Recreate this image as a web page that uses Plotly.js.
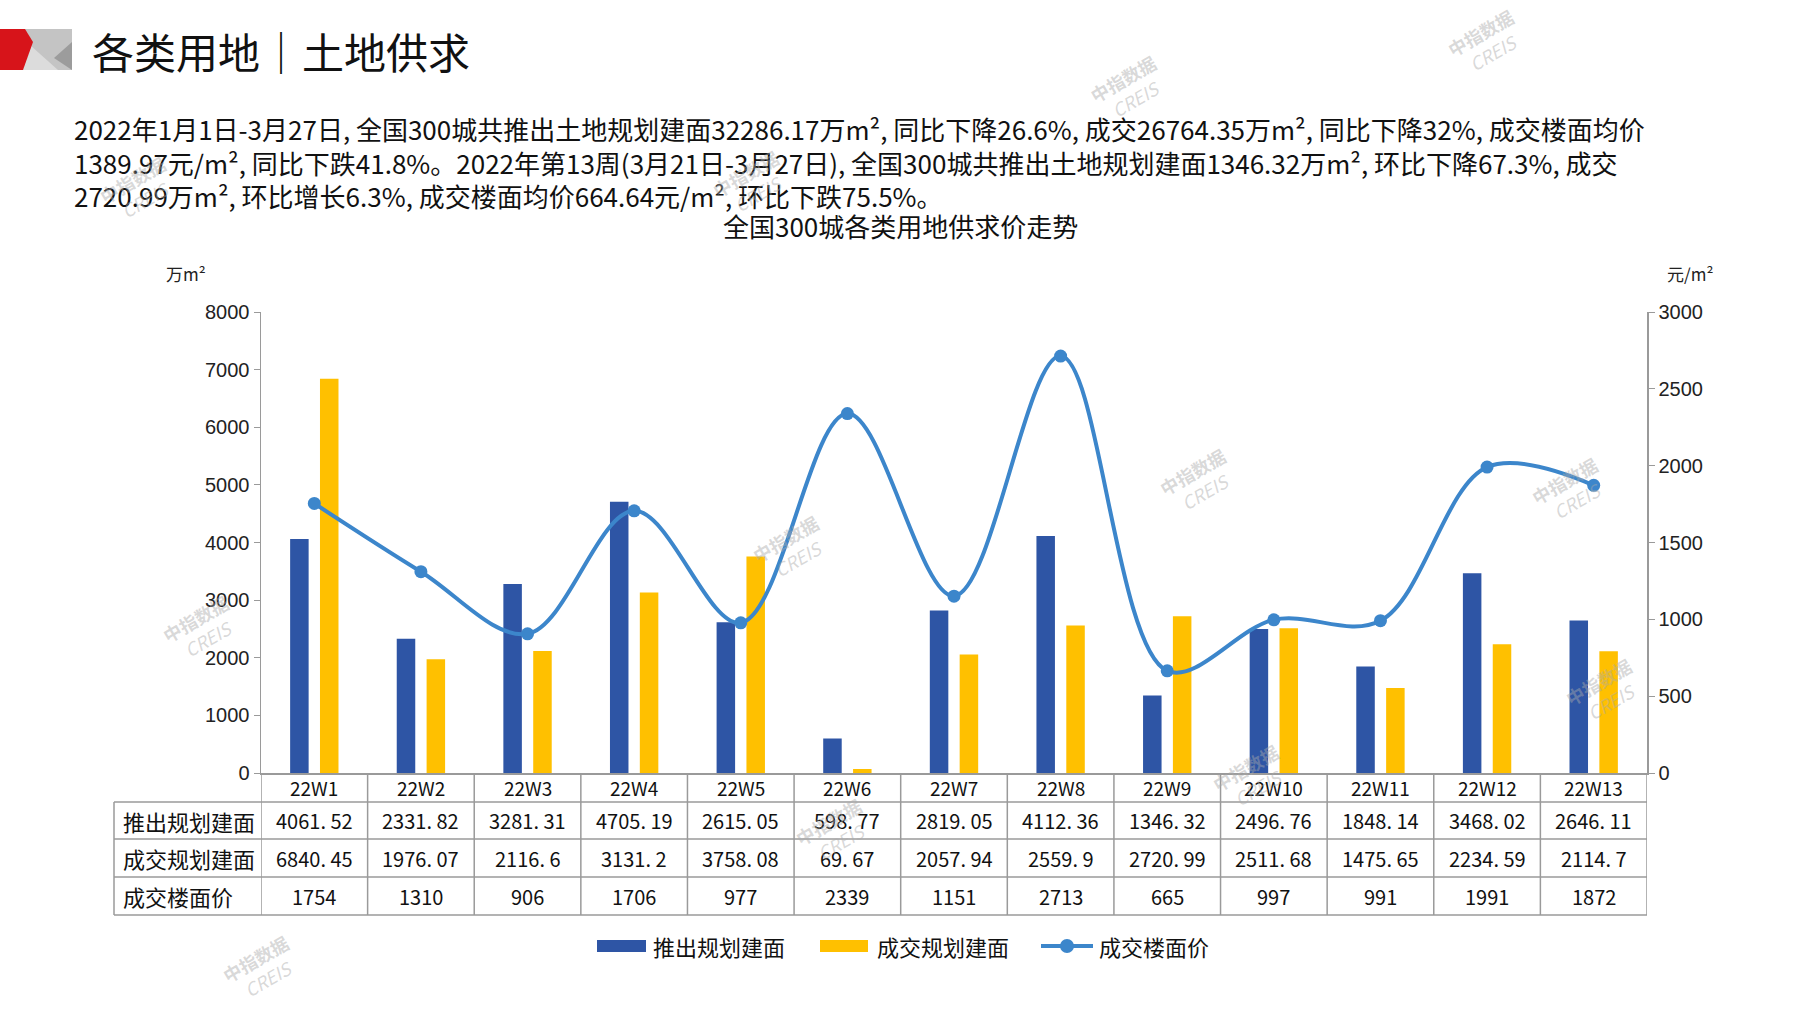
<!DOCTYPE html>
<html>
<head>
<meta charset="utf-8">
<script src="https://cdn.plot.ly/plotly-3.0.1.min.js"></script>
<style>
  body { margin: 0; background: #fff; }
  #chart { width: 1797px; height: 1010px; }
</style>
</head>
<body>
<div id="chart"></div>
<script>
// chart data
const weeks = ["22W1", "22W2", "22W3", "22W4", "22W5", "22W6", "22W7", "22W8", "22W9", "22W10", "22W11", "22W12", "22W13"];
const supplyArea = [4061.52, 2331.82, 3281.31, 4705.19, 2615.05, 598.77, 2819.05, 4112.36, 1346.32, 2496.76, 1848.14, 3468.02, 2646.11];
const dealArea = [6840.45, 1976.07, 2116.6, 3131.2, 3758.08, 69.67, 2057.94, 2559.9, 2720.99, 2511.68, 1475.65, 2234.59, 2114.7];
const dealPrice = [1754, 1310, 906, 1706, 977, 2339, 1151, 2713, 665, 997, 991, 1991, 1872];
const seriesNames = ["推出规划建面", "成交规划建面", "成交楼面价"];

const headerTitle = "各类用地｜土地供求";
const summaryLines = [
  "2022年1月1日-3月27日, 全国300城共推出土地规划建面32286.17万m², 同比下降26.6%, 成交26764.35万m², 同比下降32%, 成交楼面均价",
  "1389.97元/m², 同比下跌41.8%。2022年第13周(3月21日-3月27日), 全国300城共推出土地规划建面1346.32万m², 环比下降67.3%, 成交",
  "2720.99万m², 环比增长6.3%, 成交楼面均价664.64元/m², 环比下跌75.5%。"
];
const chartTitle = "全国300城各类用地供求价走势";

const BLUE = "#2E55A5", GOLD = "#FFC000", LINE = "#3C86CB", GRID = "#9a9a9a";
const CJK = "Noto Sans CJK SC";

// plot area in pixels, used to place the page furniture around it
const L = 261, R = 1647, T = 312, B = 773;
const px = x => (x - L) / (R - L);
const py = y => (B - y) / (B - T);

let traces = [
  {
    x: weeks, y: supplyArea, type: "bar", name: seriesNames[0],
    marker: { color: BLUE }, showlegend: false
  },
  {
    x: weeks, y: dealArea, type: "bar", name: seriesNames[1],
    marker: { color: GOLD }, showlegend: false
  },
  {
    x: weeks, y: dealPrice, type: "scatter", mode: "lines+markers", yaxis: "y2",
    name: seriesNames[2],
    line: { color: LINE, width: 4, shape: "spline", smoothing: 1 },
    marker: { color: LINE, size: 13 }, showlegend: false
  }
];

let shapes = [];
let annotations = [];

// header logo
const poly = (pts, color) => shapes.push({
  type: "path", xref: "paper", yref: "paper", line: { width: 0 }, fillcolor: color,
  path: "M " + pts.map(p => px(p[0]) + "," + py(p[1])).join(" L ") + " Z"
});
poly([[25, 29], [72, 29], [72, 70], [25, 70]], "#C4C4C4");
poly([[30, 45], [58, 70], [22, 70]], "#DCDCDC");
poly([[72, 42], [54, 58], [72, 70]], "#9C9C9C");
poly([[0, 29], [25, 29], [33, 42], [23, 70], [0, 70]], "#D7141A");

annotations.push({
  xref: "paper", yref: "paper", x: px(90), y: py(50), xanchor: "left", yanchor: "middle",
  text: headerTitle, showarrow: false, font: { family: CJK, size: 42, color: "#111" }
});

// summary paragraph
const lineY = [128, 162, 195];
summaryLines.forEach((t, i) => annotations.push({
  xref: "paper", yref: "paper", x: px(72), y: py(lineY[i]), xanchor: "left", yanchor: "middle",
  text: t, showarrow: false, font: { family: CJK, size: 26, color: "#111" }
}));

annotations.push({
  xref: "paper", yref: "paper", x: px(900), y: py(225), xanchor: "center", yanchor: "middle",
  text: chartTitle, showarrow: false, font: { family: CJK, size: 26, color: "#111" }
});

// axis units
annotations.push({
  xref: "paper", yref: "paper", x: px(186), y: py(273), xanchor: "center", yanchor: "middle",
  text: "万m²", showarrow: false, font: { family: CJK, size: 17, color: "#222" }
});
annotations.push({
  xref: "paper", yref: "paper", x: px(1690), y: py(273), xanchor: "center", yanchor: "middle",
  text: "元/m²", showarrow: false, font: { family: CJK, size: 17, color: "#222" }
});

// data table under the plot
const rowEdges = [773, 802, 839, 877, 915];
const tableLeft = 114;
const hline = (x0, x1, y) => shapes.push({
  type: "line", xref: "paper", yref: "paper", x0: px(x0), x1: px(x1), y0: py(y), y1: py(y),
  line: { color: GRID, width: 1.5 }
});
rowEdges.slice(1).forEach(y => hline(tableLeft, R, y));
weeks.forEach((w, i) => shapes.push({
  type: "line", xref: "x", yref: "paper", x0: i - 0.5, x1: i - 0.5, y0: py(773), y1: py(915),
  line: { color: GRID, width: 1.5 }
}));
shapes.push({
  type: "line", xref: "x", yref: "paper", x0: weeks.length - 0.5, x1: weeks.length - 0.5,
  y0: py(773), y1: py(915), line: { color: GRID, width: 1.5 }
});
shapes.push({
  type: "line", xref: "paper", yref: "paper", x0: px(tableLeft), x1: px(tableLeft),
  y0: py(802), y1: py(915), line: { color: GRID, width: 1.5 }
});

const rowMid = i => py((rowEdges[i] + rowEdges[i + 1]) / 2);
const fmt = v => String(v).replace(".", ". ");
const tableRows = [weeks, supplyArea.map(fmt), dealArea.map(fmt), dealPrice.map(String)];
tableRows.forEach((row, r) => row.forEach((v, i) => annotations.push({
  xref: "x", yref: "paper", x: i, y: rowMid(r), xanchor: "center", yanchor: "middle",
  text: v, showarrow: false, font: { family: CJK, size: r === 0 ? 19 : 20, color: "#111" }
})));
seriesNames.forEach((n, r) => annotations.push({
  xref: "paper", yref: "paper", x: px(121), y: rowMid(r + 1), xanchor: "left", yanchor: "middle",
  text: n, showarrow: false, font: { family: CJK, size: 22, color: "#111" }
}));

// legend
const legY = 946;
shapes.push({ type: "rect", xref: "paper", yref: "paper", x0: px(597), x1: px(646), y0: py(legY - 6), y1: py(legY + 6), fillcolor: BLUE, line: { width: 0 } });
shapes.push({ type: "rect", xref: "paper", yref: "paper", x0: px(820), x1: px(868), y0: py(legY - 6), y1: py(legY + 6), fillcolor: GOLD, line: { width: 0 } });
shapes.push({ type: "line", xref: "paper", yref: "paper", x0: px(1041), x1: px(1093), y0: py(legY), y1: py(legY), line: { color: LINE, width: 4 } });
shapes.push({ type: "circle", xref: "paper", yref: "paper", x0: px(1060), x1: px(1074), y0: py(legY - 7), y1: py(legY + 7), fillcolor: LINE, line: { width: 0 } });
[[651, 0], [875, 1], [1097, 2]].forEach(([x, k]) => annotations.push({
  xref: "paper", yref: "paper", x: px(x), y: py(legY), xanchor: "left", yanchor: "middle",
  text: seriesNames[k], showarrow: false, font: { family: CJK, size: 22, color: "#111" }
}));

// watermarks
const marks = [[1486, 42], [1129, 89], [138, 189], [751, 183], [1198, 481], [1570, 490], [201, 628],
  [791, 548], [1604, 691], [834, 831], [1251, 777], [261, 968]];
marks.forEach(([x, y]) => annotations.push({
  xref: "paper", yref: "paper", x: px(x), y: py(y), xanchor: "center", yanchor: "middle",
  text: "<b>中指数据</b><br><i>CREIS</i>", textangle: -30, showarrow: false,
  font: { family: CJK, size: 18, color: "rgba(170,170,170,0.45)" }
}));

let layout = {
  width: 1797, height: 1010,
  margin: { l: L, r: 1797 - R, t: T, b: 1010 - B, pad: 0 },
  paper_bgcolor: "#fff", plot_bgcolor: "#fff",
  barmode: "group", bargap: 0.44, bargroupgap: 0.38,
  showlegend: false,
  xaxis: {
    type: "category", range: [-0.5, weeks.length - 0.5], showticklabels: false,
    showline: true, linecolor: GRID, linewidth: 1.5, ticks: "", showgrid: false, zeroline: false, fixedrange: true
  },
  yaxis: {
    range: [0, 8000], dtick: 1000, showgrid: false, zeroline: false,
    showline: true, linecolor: GRID, linewidth: 1.5, ticks: "outside", ticklen: 6, tickcolor: GRID,
    tickfont: { family: "Liberation Sans", size: 20, color: "#222" }, automargin: false
  },
  yaxis2: {
    range: [0, 3000], dtick: 500, overlaying: "y", side: "right", showgrid: false, zeroline: false,
    showline: true, linecolor: GRID, linewidth: 1.5, ticks: "outside", ticklen: 6, tickcolor: GRID,
    tickfont: { family: "Liberation Sans", size: 20, color: "#222" }, automargin: false
  },
  shapes: shapes,
  annotations: annotations
};

Plotly.newPlot("chart", traces, layout, { displayModeBar: false, staticPlot: true });
</script>
</body>
</html>
